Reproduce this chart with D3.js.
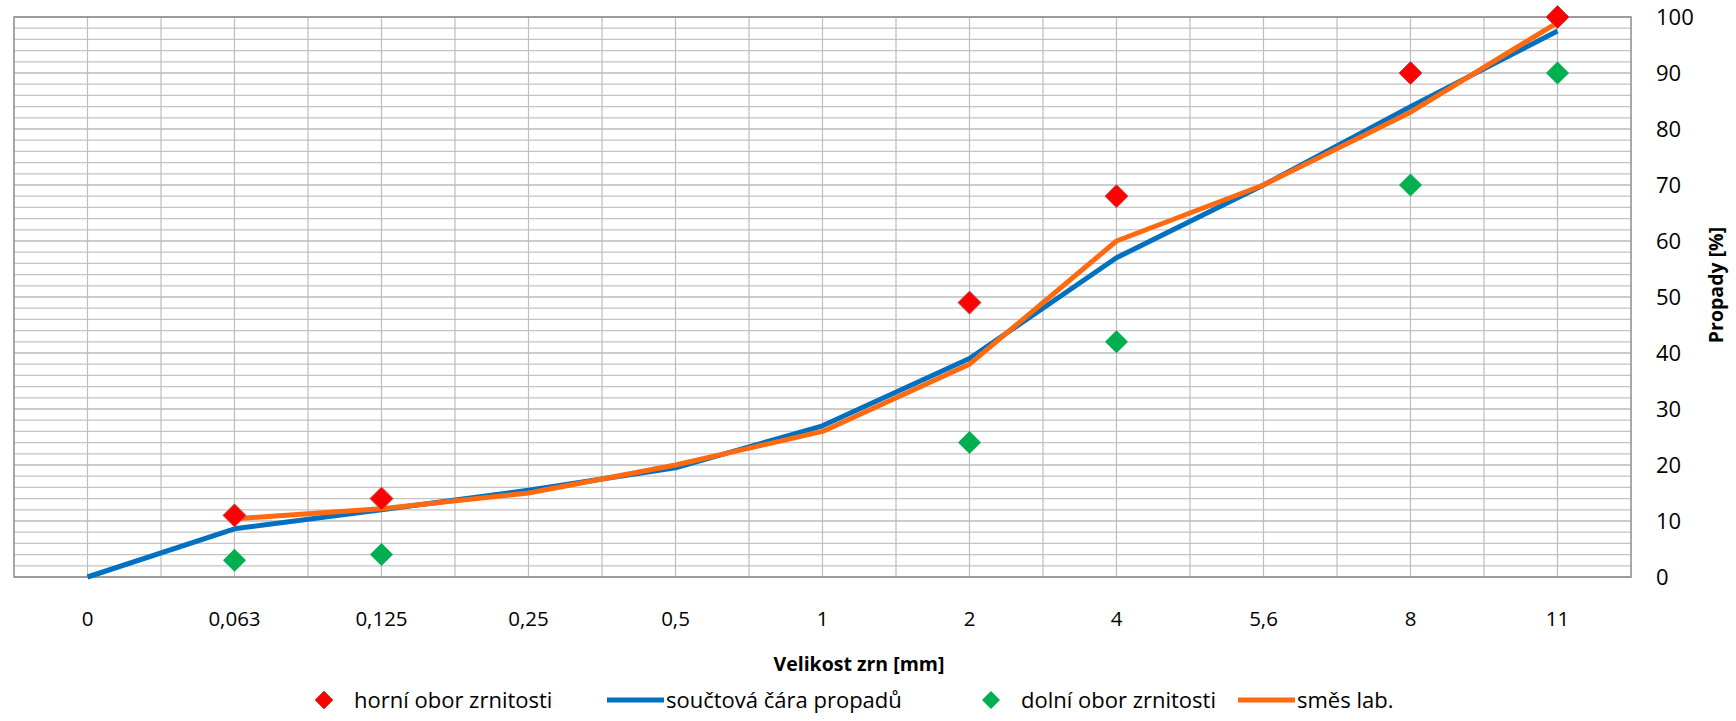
<!DOCTYPE html>
<html>
<head>
<meta charset="utf-8">
<script src="https://cdn.jsdelivr.net/npm/d3@7"></script>
<style>
  body { margin: 0; background: #fff; }
  text { font-family: "Open Sans", "Liberation Sans", sans-serif; fill: #000; }
</style>
</head>
<body>
<div id="chart"></div>
<script>
const categories = ["0", "0,063", "0,125", "0,25", "0,5", "1", "2", "4", "5,6", "8", "11"];
// součtová čára propadů
const cumulative = [0, 8.6, 12, 15.5, 19.5, 27, 39, 57, 70, 84, 97.5];
// směs lab. (no value at 0)
const labMix = [null, 10.4, 12.2, 15, 20, 26, 38, 60, 70, 83, 99];
// horní obor zrnitosti
const upperBand = [null, 11, 14, null, null, null, 49, 68, null, 90, 100];
// dolní obor zrnitosti
const lowerBand = [null, 3, 4, null, null, null, 24, 42, null, 70, 90];
const yTicks = [0, 10, 20, 30, 40, 50, 60, 70, 80, 90, 100];

const width = 1736;
const height = 721;
const margin = { top: 17, right: 105, bottom: 144, left: 14 };

const svg = d3.select("#chart")
    .append("svg")
    .attr("width", width)
    .attr("height", height);

const xBand = d3.scaleBand()
    .domain(categories)
    .range([margin.left, width - margin.right])
    .paddingInner(0).paddingOuter(0);
const x = d => xBand(d) + xBand.bandwidth() / 2;
const y = d3.scaleLinear().domain([0, 100]).range([height - margin.bottom, margin.top]);

const plotLeft = margin.left, plotRight = width - margin.right;
const plotTop = margin.top, plotBottom = height - margin.bottom;

// horizontal gridlines: minor every 2, major every 10
const grid = svg.append("g");
grid.selectAll(".minor")
    .data(d3.range(0, 101, 2).filter(v => v % 10 !== 0))
    .join("line")
    .attr("x1", plotLeft).attr("x2", plotRight)
    .attr("y1", d => y(d)).attr("y2", d => y(d))
    .attr("stroke", "#c4c4c4").attr("stroke-width", 1.2);
grid.selectAll(".major")
    .data(yTicks)
    .join("line")
    .attr("x1", plotLeft).attr("x2", plotRight)
    .attr("y1", d => y(d)).attr("y2", d => y(d))
    .attr("stroke", "#9a9a9a").attr("stroke-width", 1.2);

// vertical gridlines at category centers and boundaries
const vLines = categories.map(c => x(c)).concat(categories.slice(1).map(c => xBand(c)));
grid.selectAll(".v")
    .data(vLines)
    .join("line")
    .attr("x1", d => d).attr("x2", d => d)
    .attr("y1", plotTop).attr("y2", plotBottom)
    .attr("stroke", "#bdbdbd").attr("stroke-width", 1.2);

// plot border
svg.append("rect")
    .attr("x", plotLeft).attr("y", plotTop)
    .attr("width", plotRight - plotLeft).attr("height", plotBottom - plotTop)
    .attr("fill", "none").attr("stroke", "#8c8c8c").attr("stroke-width", 1.5);

// y axis labels on the right
svg.append("g").selectAll("text")
    .data(yTicks)
    .join("text")
    .attr("x", 1656)
    .attr("y", d => y(d))
    .attr("dy", "0.35em")
    .attr("font-size", 22)
    .text(d => d);

// x axis labels
svg.append("g").selectAll("text")
    .data(categories)
    .join("text")
    .attr("x", d => x(d))
    .attr("y", 619)
    .attr("dy", "0.35em")
    .attr("text-anchor", "middle")
    .attr("font-size", 20.5)
    .text(d => d);

// axis titles
svg.append("text")
    .attr("x", 859)
    .attr("y", 664)
    .attr("dy", "0.35em")
    .attr("text-anchor", "middle")
    .attr("font-size", 19.5)
    .attr("font-weight", "bold")
    .text("Velikost zrn [mm]");

svg.append("text")
    .attr("transform", "translate(1716,285) rotate(-90)")
    .attr("dy", "0.35em")
    .attr("text-anchor", "middle")
    .attr("font-size", 19.5)
    .attr("font-weight", "bold")
    .text("Propady [%]");

// lines
const line = d3.line()
    .defined(d => d.v != null)
    .x(d => x(d.c))
    .y(d => y(d.v));

const toPts = arr => categories.map((c, i) => ({ c, v: arr[i] }));

svg.append("path")
    .datum(toPts(cumulative))
    .attr("fill", "none")
    .attr("stroke", "#0070c0")
    .attr("stroke-width", 5)
    .attr("stroke-linejoin", "round")
    .attr("d", line);

svg.append("path")
    .datum(toPts(labMix))
    .attr("fill", "none")
    .attr("stroke", "#ff6a10")
    .attr("stroke-width", 5)
    .attr("stroke-linejoin", "round")
    .attr("d", line);

// diamond markers
const diamond = (cx, cy, r) => `M${cx},${cy - r}L${cx + r},${cy}L${cx},${cy + r}L${cx - r},${cy}Z`;

svg.append("g").selectAll("path")
    .data(toPts(upperBand).filter(d => d.v != null))
    .join("path")
    .attr("d", d => diamond(x(d.c), y(d.v), 11.5))
    .attr("fill", "#ff0000")
    .attr("stroke", "#c0504d")
    .attr("stroke-width", 1);

svg.append("g").selectAll("path")
    .data(toPts(lowerBand).filter(d => d.v != null))
    .join("path")
    .attr("d", d => diamond(x(d.c), y(d.v), 11.5))
    .attr("fill", "#00b050");

// legend
const legendY = 700;
const legend = svg.append("g");
legend.append("path").attr("d", diamond(324, legendY, 9)).attr("fill", "#ff0000").attr("stroke", "#c0504d");
legend.append("text").attr("x", 354).attr("y", legendY).attr("dy", "0.35em").attr("font-size", 22).text("horní obor zrnitosti");
legend.append("line").attr("x1", 607).attr("x2", 664).attr("y1", legendY).attr("y2", legendY)
    .attr("stroke", "#0070c0").attr("stroke-width", 5);
legend.append("text").attr("x", 666).attr("y", legendY).attr("dy", "0.35em").attr("font-size", 22).text("součtová čára propadů");
legend.append("path").attr("d", diamond(991, legendY, 9)).attr("fill", "#00b050");
legend.append("text").attr("x", 1021).attr("y", legendY).attr("dy", "0.35em").attr("font-size", 22).text("dolní obor zrnitosti");
legend.append("line").attr("x1", 1238).attr("x2", 1295).attr("y1", legendY).attr("y2", legendY)
    .attr("stroke", "#ff6a10").attr("stroke-width", 5);
legend.append("text").attr("x", 1297).attr("y", legendY).attr("dy", "0.35em").attr("font-size", 22).text("směs lab.");
</script>
</body>
</html>
